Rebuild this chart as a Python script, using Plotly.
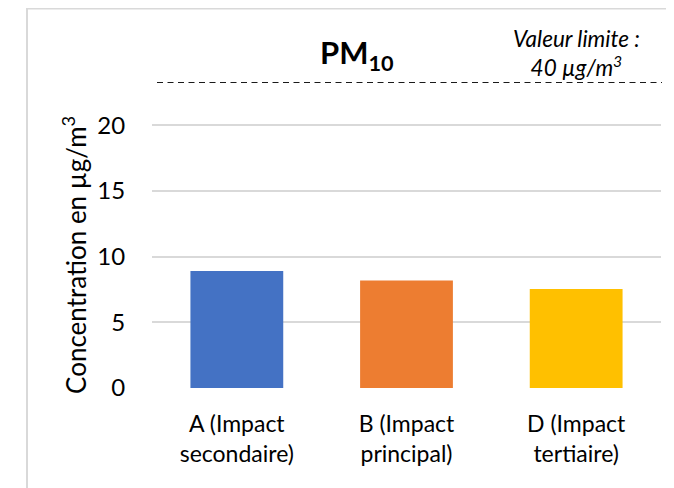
import plotly.graph_objects as go

categories = ["A (Impact<br>secondaire)", "B (Impact<br>principal)", "D (Impact<br>tertiaire)"]
values = [8.9, 8.17, 7.54]
colors = ["#4472C4", "#ED7D31", "#FFC000"]
y_ticks = [0, 5, 10, 15, 20]
limit_line_y = 23.28

# page offset (browser body margin) and plot box in figure pixels
OFF = 8
L, R_, T, B = 144, 653, 73.7, 380.3
W, H = R_ - L, B - T


def px(x):
    return (x - OFF - L) / W


def py(y):
    return (B - (y - OFF)) / H


font_family = "Lato"

fig = go.Figure()
fig.add_trace(go.Bar(x=categories, y=values, marker=dict(color=colors, line=dict(width=0)),
                     hoverinfo="skip"))

fig.update_layout(
    width=674, height=488,
    margin=dict(l=L, r=674 - R_, t=T, b=488 - B, autoexpand=False),
    paper_bgcolor="white", plot_bgcolor="white",
    showlegend=False,
    bargap=0.453,
    font=dict(family=font_family, color="#000000"),
    xaxis=dict(showgrid=False, showline=False, zeroline=False,
               ticks="outside", ticklen=15, tickcolor="rgba(0,0,0,0)",
               tickfont=dict(size=23, family=font_family, color="#000000")),
    yaxis=dict(range=[0, limit_line_y], tickvals=y_ticks, showgrid=True,
               gridcolor="#d9d9d9", gridwidth=1.5, zeroline=False, showline=False,
               ticks="outside", ticklen=21, tickcolor="rgba(0,0,0,0)",
               tickfont=dict(size=24, family=font_family, color="#000000")),
)

# dashed limit line
fig.add_shape(type="line", xref="paper", yref="y", x0=px(157), x1=px(662),
              y0=limit_line_y, y1=limit_line_y,
              line=dict(color="#1a1a1a", width=1.8, dash="6px,4.5px"))

# outer border
fig.add_shape(type="rect", xref="paper", yref="paper",
              x0=px(27), x1=px(720), y0=py(540), y1=py(8),
              line=dict(color="#d9d9d9", width=2), fillcolor="rgba(0,0,0,0)", layer="below")

# title
fig.add_annotation(text="<b>PM<sub>10</sub></b>", xref="paper", yref="paper",
                   x=px(357), y=py(54), showarrow=False,
                   font=dict(size=31, family=font_family, color="#000000"),
                   xanchor="center", yanchor="middle")

# limit value annotation
fig.add_annotation(text="<i>Valeur limite :<br>40 µg/m<sup>3</sup></i>", xref="paper", yref="paper",
                   x=px(576), y=py(53), showarrow=False,
                   font=dict(size=22.5, family=font_family, color="#000000"),
                   xanchor="center", yanchor="middle", align="center")

# y-axis title
fig.add_annotation(text="Concentration en µg/m<sup>3</sup>", xref="paper", yref="paper",
                   x=px(75), y=py(255), showarrow=False,
                   textangle=-90, font=dict(size=26, family=font_family, color="#000000"),
                   xanchor="center", yanchor="middle")

fig.write_html("out.html")
